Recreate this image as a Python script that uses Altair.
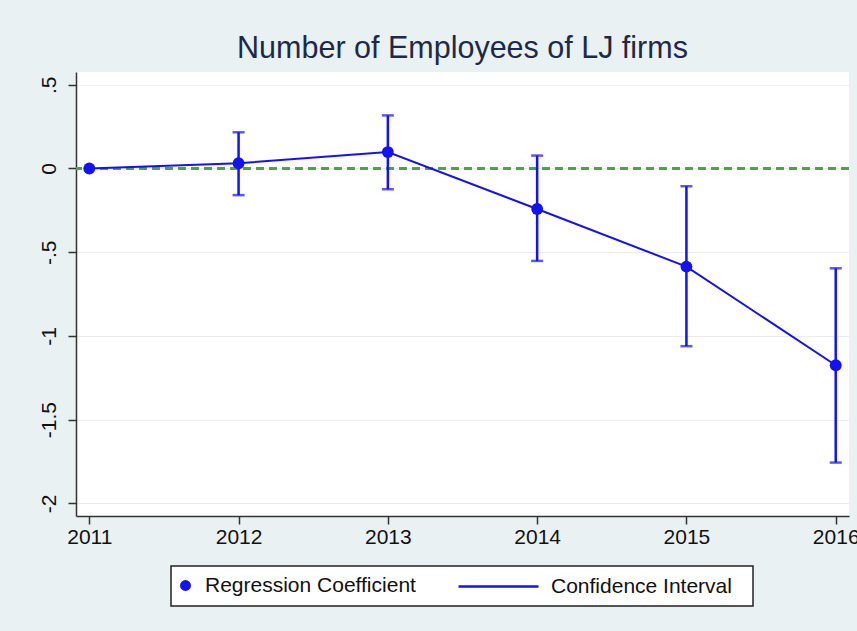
import altair as alt
import pandas as pd

# ---- data ----
years = [2011, 2012, 2013, 2014, 2015, 2016]
coef = [0.0, 0.031, 0.098, -0.242, -0.586, -1.175]
ci_low = [0.0, -0.159, -0.124, -0.552, -1.061, -1.756]
ci_high = [0.0, 0.216, 0.317, 0.077, -0.106, -0.596]
y_ticks = [-2, -1.5, -1, -0.5, 0, 0.5]
title_text = "Number of Employees of LJ firms"
legend_point = "Regression Coefficient"
legend_line = "Confidence Interval"

df = pd.DataFrame({"year": years, "coef": coef, "lo": ci_low, "hi": ci_high})

BLUE = "#1212f2"
GREEN = "#4ea346"
FONT = "Liberation Sans"
BG = "#e9f1f3"
LBL = 21

x_enc = alt.X(
    "year:Q",
    scale=alt.Scale(domain=[2010.911, 2016.089], nice=False, zero=False),
    axis=alt.Axis(
        values=years, format="d", title=None, grid=False,
        labelFontSize=LBL, labelFont=FONT, labelColor="#111111",
        tickSize=8, tickColor="#333333", tickWidth=1.5,
        domainColor="#333333", domainWidth=1.5, labelPadding=2,
        labelFlush=False, labelOverlap=False,
    ),
)
y_scale = alt.Scale(domain=[-2.075, 0.576], nice=False, zero=False)
y_axis = alt.Axis(
    values=y_ticks, title=None, grid=True, gridColor="#ececec", gridWidth=1,
    labelExpr="replace(datum.value + '', '0.', '.')",
    labelAngle=-90, labelAlign="center", labelBaseline="bottom",
    labelFontSize=LBL, labelFont=FONT, labelColor="#111111",
    tickSize=8, tickColor="#333333", tickWidth=1.5,
    domainColor="#333333", domainWidth=1.5, labelPadding=9,
    labelOverlap=False,
)

base = alt.Chart(df)

zero_line = alt.Chart(pd.DataFrame({"z": [0]})).mark_rule(
    color=GREEN, strokeWidth=3, strokeDash=[8, 5]
).encode(y=alt.Y("z:Q", scale=y_scale, axis=y_axis))

line = base.mark_line(color=BLUE, strokeWidth=2).encode(
    x=x_enc, y=alt.Y("coef:Q", scale=y_scale, axis=y_axis)
)

bars = base.transform_filter("datum.hi != datum.lo").transform_calculate(
    ci=f"'{legend_line}'"
).mark_rule(strokeWidth=2.5).encode(
    x=x_enc,
    y=alt.Y("lo:Q", scale=y_scale, axis=y_axis),
    y2="hi:Q",
    stroke=alt.Stroke(
        "ci:N",
        scale=alt.Scale(range=[BLUE]),
        legend=alt.Legend(
            orient="none", legendX=381, legendY=473, title=None,
            symbolType="stroke", symbolSize=6400, symbolStrokeWidth=2.5,
            labelFont=FONT, labelFontSize=LBL, labelColor="#111111",
            labelOffset=11, labelLimit=0, zindex=2,
        ),
    ),
)

caps = base.transform_filter("datum.hi != datum.lo").transform_fold(
    ["lo", "hi"], as_=["end", "val"]
).mark_tick(orient="horizontal", size=12, thickness=2.5, color=BLUE).encode(
    x=x_enc, y=alt.Y("val:Q", scale=y_scale, axis=y_axis)
)

points = base.transform_calculate(pt=f"'{legend_point}'").mark_point(
    filled=True, size=140, opacity=1
).encode(
    x=x_enc,
    y=alt.Y("coef:Q", scale=y_scale, axis=y_axis),
    fill=alt.Fill(
        "pt:N",
        scale=alt.Scale(range=[BLUE]),
        legend=alt.Legend(
            orient="none", legendX=99, legendY=503, title=None,
            symbolType="circle", symbolSize=120,
            labelFont=FONT, labelFontSize=LBL, labelColor="#111111",
            labelOffset=9, labelLimit=0, zindex=2,
        ),
    ),
)

frame = alt.Chart(pd.DataFrame({"a": [0]})).mark_rect(
    fill="white", stroke="#222222", strokeWidth=1.5
).encode(
    x=alt.value(95), x2=alt.value(677), y=alt.value(494), y2=alt.value(534)
)

chart = alt.layer(frame, zero_line, line, bars, caps, points).resolve_scale(
    fill="independent", stroke="independent"
).properties(
    width=773,
    height=444,
    background=BG,
    padding={"left": 76, "top": 72, "right": 8, "bottom": 115},
    autosize=alt.AutoSizeParams(type="none"),
    title=alt.Title(
        title_text, fontSize=30.5, font=FONT, fontWeight="normal",
        color="#1c2a48", anchor="middle", frame="group", offset=8,
    ),
).configure_view(fill="white", stroke=None)

chart.save("out.html", embed_options={"renderer": "svg", "actions": False})
